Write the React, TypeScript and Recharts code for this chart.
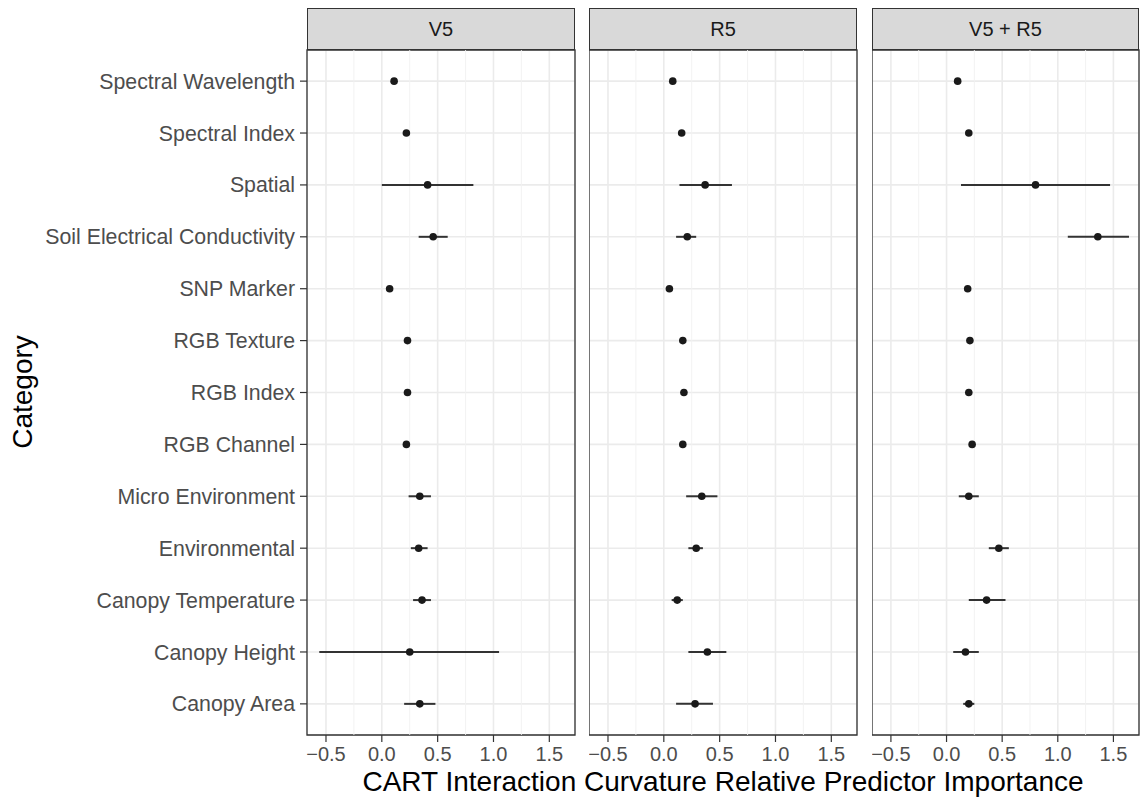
import React from 'react';
import {
  ScatterChart,
  Scatter,
  XAxis,
  YAxis,
  CartesianGrid,
  ErrorBar,
  ReferenceLine,
  ReferenceArea,
} from 'recharts';

// categories, top row first
const categories = [
  'Spectral Wavelength',
  'Spectral Index',
  'Spatial',
  'Soil Electrical Conductivity',
  'SNP Marker',
  'RGB Texture',
  'RGB Index',
  'RGB Channel',
  'Micro Environment',
  'Environmental',
  'Canopy Temperature',
  'Canopy Height',
  'Canopy Area',
];

const panelTitles = ['V5', 'R5', 'V5 + R5'];

const v5Mean = [0.11, 0.22, 0.41, 0.46, 0.07, 0.23, 0.23, 0.22, 0.34, 0.33, 0.36, 0.25, 0.34];
const v5Low = [0.1, 0.21, 0.0, 0.33, 0.06, 0.22, 0.22, 0.21, 0.24, 0.26, 0.28, -0.56, 0.2];
const v5High = [0.12, 0.23, 0.82, 0.59, 0.08, 0.24, 0.24, 0.23, 0.44, 0.41, 0.44, 1.05, 0.48];

const r5Mean = [0.08, 0.16, 0.37, 0.21, 0.05, 0.17, 0.18, 0.17, 0.34, 0.29, 0.12, 0.39, 0.28];
const r5Low = [0.07, 0.15, 0.14, 0.11, 0.04, 0.16, 0.17, 0.16, 0.2, 0.22, 0.07, 0.22, 0.11];
const r5High = [0.09, 0.17, 0.61, 0.29, 0.06, 0.18, 0.19, 0.18, 0.48, 0.35, 0.17, 0.56, 0.44];

const bothMean = [0.1, 0.2, 0.8, 1.36, 0.19, 0.21, 0.2, 0.23, 0.2, 0.47, 0.36, 0.17, 0.2];
const bothLow = [0.09, 0.19, 0.13, 1.09, 0.18, 0.2, 0.19, 0.22, 0.11, 0.38, 0.2, 0.06, 0.15];
const bothHigh = [0.11, 0.21, 1.47, 1.64, 0.2, 0.22, 0.21, 0.24, 0.29, 0.56, 0.53, 0.29, 0.25];

const xTicks = [-0.5, 0, 0.5, 1, 1.5];
const xMinor = [-0.25, 0.25, 0.75, 1.25];

const X_DOMAIN: [number, number] = [-0.67, 1.73];
const Y_DOMAIN: [number, number] = [0.4, categories.length + 0.6];
const yTicks = categories.map((_, i) => i + 1);

const FONT = '"Liberation Sans", Arial, Helvetica, sans-serif';
const TOP = 50;
const HEIGHT = 798;
const X_AXIS_H = 63;

const buildRows = (mean: number[], low: number[], high: number[]) =>
  categories.map((name, i) => ({
    name,
    y: categories.length - i,
    x: mean[i],
    err: [mean[i] - low[i], high[i] - mean[i]],
  }));

const panels = [
  { title: panelTitles[0], rows: buildRows(v5Mean, v5Low, v5High), plotLeft: 307, plotWidth: 268 },
  { title: panelTitles[1], rows: buildRows(r5Mean, r5Low, r5High), plotLeft: 589, plotWidth: 268 },
  { title: panelTitles[2], rows: buildRows(bothMean, bothLow, bothHigh), plotLeft: 872, plotWidth: 267 },
];

const fmtX = (v: number) => (v < 0 ? '\u2212' + Math.abs(v).toFixed(1) : v.toFixed(1));
const fmtY = (v: number) => categories[categories.length - v] ?? '';

const Dot = (p: any) => <circle cx={p.cx} cy={p.cy} r={3.8} fill="#1a1a1a" />;

const Panel = ({ idx }: { idx: number }) => {
  const p = panels[idx];
  const first = idx === 0;
  const yW = first ? p.plotLeft : 0;
  const chartLeft = first ? 0 : p.plotLeft;
  const width = p.plotWidth + yW + 1;
  return (
    <div style={{ position: 'absolute', left: chartLeft, top: 0 }}>
      <ScatterChart
        width={width}
        height={HEIGHT}
        margin={{ top: TOP, right: 1, bottom: 0, left: 0 }}
      >
        <CartesianGrid stroke="#ebebeb" strokeWidth={1.6} />
        {xMinor.map((v) => (
          <ReferenceLine key={v} x={v} stroke="#f1f1f1" strokeWidth={0.9} />
        ))}
        <XAxis
          type="number"
          dataKey="x"
          domain={X_DOMAIN}
          allowDataOverflow
          ticks={xTicks}
          tickFormatter={fmtX}
          height={X_AXIS_H}
          axisLine={false}
          tickSize={7}
          tickMargin={5}
          tickLine={{ stroke: '#333333', strokeWidth: 1.2 }}
          tick={{ fill: '#4d4d4d', fontSize: 20, fontFamily: FONT }}
        />
        <YAxis
          type="number"
          dataKey="y"
          domain={Y_DOMAIN}
          allowDataOverflow
          ticks={yTicks}
          interval={0}
          tickFormatter={fmtY}
          width={yW}
          hide={!first}
          axisLine={false}
          tickSize={7}
          tickMargin={5}
          tickLine={{ stroke: '#333333', strokeWidth: 1.2 }}
          tick={{ fill: '#4d4d4d', fontSize: 21.3, fontFamily: FONT }}
        />
        <ReferenceArea
          x1={X_DOMAIN[0]}
          x2={X_DOMAIN[1]}
          y1={Y_DOMAIN[0]}
          y2={Y_DOMAIN[1]}
          fill="none"
          stroke="#333333"
          strokeWidth={1.3}
        />
        <Scatter data={p.rows} shape={Dot} isAnimationActive={false}>
          <ErrorBar
            dataKey="err"
            direction="x"
            width={0}
            stroke="#333333"
            strokeWidth={2}
          />
        </Scatter>
      </ScatterChart>
      <div
        style={{
          position: 'absolute',
          left: yW,
          top: 8,
          width: p.plotWidth,
          height: TOP - 8,
          boxSizing: 'border-box',
          background: '#d9d9d9',
          border: '1.3px solid #333333',
          display: 'flex',
          alignItems: 'center',
          justifyContent: 'center',
          fontFamily: FONT,
          fontSize: 20,
          color: '#1a1a1a',
        }}
      >
        {p.title}
      </div>
    </div>
  );
};

export default function App() {
  return (
    <div
      style={{
        position: 'absolute',
        left: 0,
        top: 0,
        width: 1141,
        height: HEIGHT,
        background: '#ffffff',
        overflow: 'hidden',
        fontFamily: FONT,
      }}
    >
      {panels.map((_, i) => (
        <Panel key={i} idx={i} />
      ))}
      <div
        style={{
          position: 'absolute',
          left: 307,
          width: 1139 - 307,
          top: 768,
          textAlign: 'center',
          fontSize: 28,
          color: '#000000',
          lineHeight: '28px',
          whiteSpace: 'nowrap',
        }}
      >
        CART Interaction Curvature Relative Predictor Importance
      </div>
      <div
        style={{
          position: 'absolute',
          left: 23,
          top: 392,
          transform: 'translate(-50%, -50%) rotate(-90deg)',
          fontSize: 28,
          color: '#000000',
          whiteSpace: 'nowrap',
          lineHeight: '32px',
        }}
      >
        Category
      </div>
    </div>
  );
}
